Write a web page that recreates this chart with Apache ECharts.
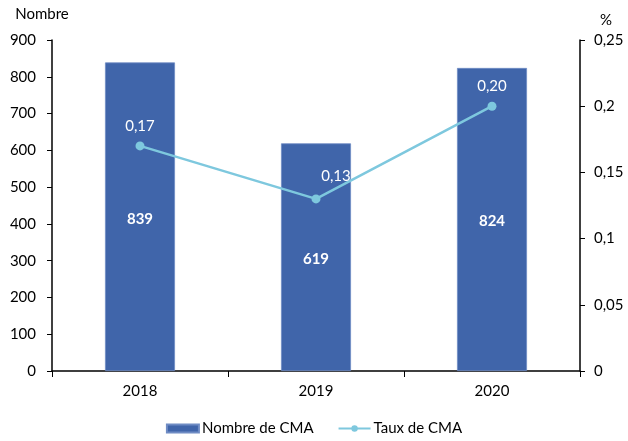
<!DOCTYPE html>
<html><head><meta charset="utf-8">
<script src="https://cdn.jsdelivr.net/npm/echarts@6/dist/echarts.min.js"></script>
<style>html,body{margin:0;padding:0;background:#fff}#c{width:628px;height:441px}</style>
</head><body><div id="c"></div>
<script>
const categories = ['2018', '2019', '2020'];
const nombre = [839, 619, 824];
const taux = [0.17, 0.13, 0.20];
const leftTicks = [0, 900, 100];
const rightTicks = [0, 0.25, 0.05];

const font = 'Lato';
const fs = 15;
const fmt = v => String(v).replace('.', ',');
const chart = echarts.init(document.getElementById('c'));
chart.setOption({
  animation: false,
  textStyle: { fontFamily: font },
  grid: { left: 52, right: 48, top: 40, bottom: 70, containLabel: false },
  legend: {
    bottom: 0, left: 'center', itemGap: 24, itemWidth: 32, itemHeight: 8,
    textStyle: { fontFamily: font, fontSize: fs, color: '#000', padding: [0, 0, 0, -2] },
    data: [
      { name: 'Nombre de CMA', icon: 'rect' },
      { name: 'Taux de CMA' }
    ]
  },
  xAxis: {
    type: 'category', data: categories,
    axisLine: { lineStyle: { color: '#000', width: 1.5 } },
    axisTick: { show: true, length: 6, lineStyle: { color: '#000' } },
    axisLabel: { color: '#000', fontSize: fs, margin: 13, fontFamily: font }
  },
  yAxis: [
    {
      type: 'value', min: leftTicks[0], max: leftTicks[1], interval: leftTicks[2],
      name: 'Nombre', nameLocation: 'end', nameGap: 18,
      nameTextStyle: { color: '#000', fontSize: fs, fontFamily: font, padding: [0, 20, 0, 0] },
      axisLine: { show: true, lineStyle: { color: '#000', width: 1.5 } },
      axisTick: { show: true, length: 5, lineStyle: { color: '#000' } },
      axisLabel: { color: '#000', fontSize: fs, margin: 16, fontFamily: font },
      splitLine: { show: false }
    },
    {
      type: 'value', min: rightTicks[0], max: rightTicks[1], interval: rightTicks[2],
      position: 'right',
      name: '%', nameLocation: 'end', nameGap: 12,
      nameTextStyle: { color: '#000', fontSize: fs, fontFamily: font, align: 'left', padding: [0, 0, 0, 20] },
      axisLine: { show: true, lineStyle: { color: '#000', width: 1.5 } },
      axisTick: { show: true, length: 5, lineStyle: { color: '#000' } },
      axisLabel: { color: '#000', fontSize: fs, margin: 14, fontFamily: font, formatter: v => fmt(v) },
      splitLine: { show: false }
    }
  ],
  series: [
    {
      name: 'Nombre de CMA', type: 'bar', data: nombre, barWidth: 70, yAxisIndex: 0,
      itemStyle: { color: '#4065AA', borderColor: '#6f8cc4', borderWidth: 0.8 },
      label: { show: true, position: 'inside', offset: [0, 2], color: '#fff', fontWeight: 'bold', fontSize: fs, fontFamily: font }
    },
    {
      name: 'Taux de CMA', type: 'line', data: taux.map((v, i) => i === 1 ? { value: v, label: { offset: [20, -3] } } : v),
      yAxisIndex: 1,
      symbol: 'circle', symbolSize: 9,
      lineStyle: { color: '#7EC8DE', width: 2.5 },
      itemStyle: { color: '#7EC8DE' },
      label: { show: true, position: 'top', distance: 8, color: '#fff', fontSize: fs, fontFamily: font,
        formatter: p => p.value.toFixed(2).replace('.', ',') }
    }
  ]
});
</script></body></html>
